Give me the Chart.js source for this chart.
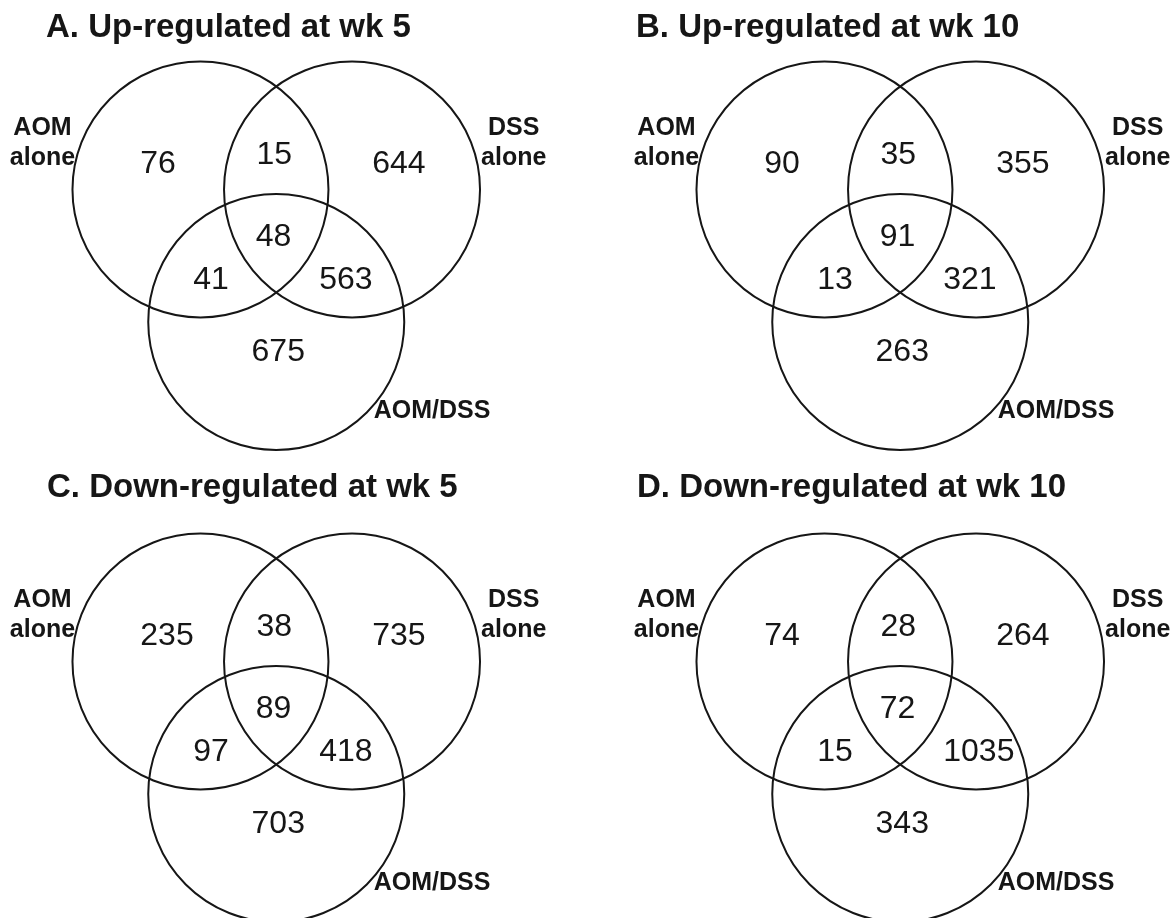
<!DOCTYPE html>
<html>
<head>
<meta charset="utf-8">
<title>Venn diagrams</title>
<script src="https://cdn.jsdelivr.net/npm/chart.js@4.4.0/dist/chart.umd.min.js"></script>
<style>
  html, body { margin: 0; padding: 0; background: #fff; overflow: hidden; }
  #figure { position: relative; width: 1172px; height: 918px; }
  .panel { position: absolute; }
</style>
</head>
<body>
<div id="figure">
  <div class="panel" style="left:0;top:0;width:586px;height:460px"><canvas id="venn-a"></canvas></div>
  <div class="panel" style="left:586px;top:0;width:586px;height:460px"><canvas id="venn-b"></canvas></div>
  <div class="panel" style="left:0;top:460px;width:586px;height:458px"><canvas id="venn-c"></canvas></div>
  <div class="panel" style="left:586px;top:460px;width:586px;height:458px"><canvas id="venn-d"></canvas></div>
</div>
<script>
// ---- data ----
const setNames = ['AOM alone', 'DSS alone', 'AOM/DSS'];
const panelTitles = [
  'A. Up-regulated at wk 5',
  'B. Up-regulated at wk 10',
  'C. Down-regulated at wk 5',
  'D. Down-regulated at wk 10'
];
// region order: AOM only, AOM+DSS, DSS only, all three, AOM+AOM/DSS, DSS+AOM/DSS, AOM/DSS only
const upWk5    = [76, 15, 644, 48, 41, 563, 675];
const upWk10   = [90, 35, 355, 91, 13, 321, 263];
const downWk5  = [235, 38, 735, 89, 97, 418, 703];
const downWk10 = [74, 28, 264, 72, 15, 1035, 343];

// ---- layout (units of one circle radius) ----
const UNIT = 128; // px per radius
const circleCentres = [[-0.592, 0.345], [0.592, 0.345], [0, -0.69]];
const regionAnchors = [
  [-1.062, 0.476], [-0.154, 0.548], [0.750, 0.476], [-0.161, -0.096],
  [-0.648, -0.434], [0.336, -0.434], [-0.193, -0.996]
];
const setLabelAnchors = [[-1.826, 0.770], [1.855, 0.771], [1.217, -1.440]];
const FONT = '"Liberation Sans", Arial, Helvetica, sans-serif';
const INK = '#161616';

const panels = [
  { id: 'venn-a', title: panelTitles[0], counts: upWk5,    box: [0, 0, 586, 460],     origin: [276.25, 233.7], titleX: 46 },
  { id: 'venn-b', title: panelTitles[1], counts: upWk10,   box: [586, 0, 586, 460],   origin: [900.25, 233.7], titleX: 50 },
  { id: 'venn-c', title: panelTitles[2], counts: downWk5,  box: [0, 460, 586, 458],   origin: [276.25, 705.7], titleX: 47 },
  { id: 'venn-d', title: panelTitles[3], counts: downWk10, box: [586, 460, 586, 458], origin: [900.25, 705.7], titleX: 51 }
];

// draws title, region counts and set names on top of the circles
function textPlugin(panel) {
  return {
    id: 'vennText',
    afterDatasetsDraw(chart) {
      const { ctx, scales: { x, y } } = chart;
      ctx.save();
      ctx.fillStyle = INK;
      ctx.textBaseline = 'alphabetic';

      ctx.textAlign = 'left';
      ctx.font = 'bold 33px ' + FONT;
      ctx.fillText(panel.title, panel.titleX, 37);

      ctx.font = '32px ' + FONT;
      panel.counts.forEach((n, i) => {
        const [u, v] = regionAnchors[i];
        ctx.fillText(String(n), x.getPixelForValue(u), y.getPixelForValue(v));
      });

      ctx.textAlign = 'center';
      ctx.font = 'bold 25px ' + FONT;
      setNames.forEach((name, i) => {
        const [u, v] = setLabelAnchors[i];
        const lines = name.split(' ');
        lines.forEach((line, k) => {
          ctx.fillText(line, x.getPixelForValue(u), y.getPixelForValue(v) + k * 30);
        });
      });
      ctx.restore();
    }
  };
}

panels.forEach(panel => {
  const [left, top, w, h] = panel.box;
  const [ox, oy] = panel.origin;
  new Chart(document.getElementById(panel.id), {
    type: 'bubble',
    data: {
      datasets: [{
        data: circleCentres.map(([cx, cy]) => ({ x: cx, y: cy })),
        radius: UNIT,
        backgroundColor: 'rgba(0,0,0,0)',
        borderColor: INK,
        borderWidth: 2,
        clip: false
      }]
    },
    options: {
      responsive: true,
      maintainAspectRatio: false,
      animation: false,
      events: [],
      layout: { padding: 0, autoPadding: false },
      plugins: { legend: { display: false }, tooltip: { enabled: false } },
      scales: {
        x: { type: 'linear', display: false, min: (left - ox) / UNIT, max: (left + w - ox) / UNIT },
        y: { type: 'linear', display: false, min: (oy - top - h) / UNIT, max: (oy - top) / UNIT }
      }
    },
    plugins: [textPlugin(panel)]
  });
});
</script>
</body>
</html>
